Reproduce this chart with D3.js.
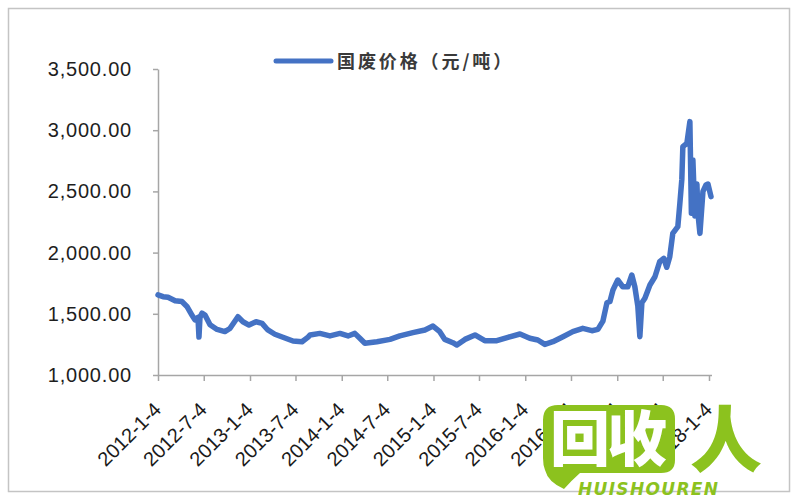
<!DOCTYPE html>
<html><head><meta charset="utf-8">
<script src="https://cdn.jsdelivr.net/npm/d3@7"></script>
<style>body{margin:0;background:#fff}</style>
</head><body><svg id="c" width="800" height="500"></svg>
<script>
const seriesName = "国废价格（元/吨）";
const dates = ["2012-01-04","2012-01-24","2012-02-13","2012-03-12","2012-04-08","2012-04-28","2012-05-18","2012-05-30","2012-06-11","2012-06-15","2012-06-19","2012-06-27","2012-07-09","2012-07-29","2012-08-26","2012-09-26","2012-10-16","2012-11-17","2012-12-07","2012-12-31","2013-01-28","2013-02-21","2013-03-16","2013-04-13","2013-05-15","2013-06-24","2013-07-30","2013-08-23","2013-08-31","2013-10-09","2013-11-18","2013-12-28","2014-01-29","2014-02-25","2014-03-17","2014-04-06","2014-05-24","2014-07-15","2014-08-23","2014-10-14","2014-12-01","2015-01-02","2015-01-29","2015-02-18","2015-03-22","2015-04-07","2015-05-09","2015-06-18","2015-07-27","2015-09-13","2015-10-27","2015-12-14","2016-01-22","2016-02-23","2016-03-22","2016-04-23","2016-06-02","2016-07-11","2016-08-20","2016-09-25","2016-10-19","2016-11-08","2016-11-24","2016-12-06","2016-12-18","2017-01-06","2017-01-26","2017-02-15","2017-03-03","2017-03-15","2017-03-27","2017-04-04","2017-04-12","2017-04-24","2017-05-14","2017-06-03","2017-06-22","2017-07-08","2017-07-20","2017-08-01","2017-08-13","2017-09-02","2017-09-10","2017-09-18","2017-09-22","2017-10-08","2017-10-20","2017-10-26","2017-11-01","2017-11-09","2017-11-17","2017-11-21","2017-11-29","2017-12-11","2017-12-23","2017-12-31","2018-01-12"];
const prices = [1655,1640,1635,1607,1600,1560,1490,1450,1470,1310,1470,1505,1490,1410,1372,1355,1380,1476,1435,1408,1435,1422,1368,1333,1308,1278,1272,1310,1327,1340,1319,1340,1319,1340,1300,1259,1272,1291,1319,1346,1368,1400,1354,1291,1264,1245,1291,1327,1280,1280,1308,1335,1300,1286,1250,1272,1313,1354,1381,1362,1373,1440,1590,1600,1694,1776,1721,1721,1817,1721,1560,1313,1590,1627,1735,1803,1926,1953,1880,1967,2157,2212,2400,2600,2865,2892,3070,2321,2756,2300,2560,2320,2157,2500,2552,2560,2457];
const xTickLabels = ["2012-1-4","2012-7-4","2013-1-4","2013-7-4","2014-1-4","2014-7-4","2015-1-4","2015-7-4","2016-1-4","2016-7-4","2017-1-4","2017-7-4","2018-1-4"];
const yTickValues = [1000,1500,2000,2500,3000,3500];
const watermarkTitle = "回收";
const watermarkMark = "人";
const watermarkSub = "HUISHOUREN";

const svg = d3.select("#c");
const parse = d3.timeParse("%Y-%m-%d");
const parseTick = d3.timeParse("%Y-%-m-%-d");
const data = dates.map((d,i)=>({date:parse(d), value:prices[i]}));
const tickDates = xTickLabels.map(parseTick);

// outer frame
svg.append("rect").attr("x",8.5).attr("y",8.5).attr("width",781).attr("height",483)
  .attr("fill","#fff").attr("stroke","#c4c4c4").attr("stroke-width",1.5);

const x = d3.scaleTime().domain([parse("2012-01-04"), parse("2018-01-14")]).range([158, 711.5]);
const y = d3.scaleLinear().domain([1000,3500]).range([375,69]);

const yAxis = svg.append("g").attr("transform","translate(158,0)")
  .call(d3.axisLeft(y).tickValues(yTickValues).tickSize(5).tickSizeOuter(0).tickPadding(21).tickFormat(d3.format(",.2f")));
yAxis.selectAll("path,line").attr("stroke","#a6a6a6").attr("stroke-width",1.5);
yAxis.selectAll("text").attr("font-family","Liberation Sans, Arial, sans-serif").attr("font-size",20)
  .attr("letter-spacing","0.8px").attr("fill","#1e1e1e");

const xAxis = svg.append("g").attr("transform","translate(0,375)")
  .call(d3.axisBottom(x).tickValues(tickDates).tickSize(6).tickSizeOuter(0).tickFormat((d,i)=>xTickLabels[i]));
xAxis.selectAll("path,line").attr("stroke","#a6a6a6").attr("stroke-width",1.5);
xAxis.selectAll("text").attr("font-family","Liberation Sans, Arial, sans-serif").attr("font-size",20)
  .attr("fill","#1a1a1a").attr("text-anchor","end")
  .attr("transform","translate(-1,31) rotate(-45)").attr("x",0).attr("y",0).attr("dy","0.35em");

// line
const line = d3.line().x(d=>x(d.date)).y(d=>y(d.value));
svg.append("path").datum(data).attr("d",line).attr("fill","none")
  .attr("stroke","#4472c4").attr("stroke-width",5.5).attr("stroke-linejoin","round").attr("stroke-linecap","round");

// legend
svg.append("line").attr("x1",276).attr("x2",331).attr("y1",61).attr("y2",61)
  .attr("stroke","#4472c4").attr("stroke-width",5).attr("stroke-linecap","round");
svg.append("text").attr("x",337).attr("y",68).text(seriesName)
  .attr("font-family","Noto Sans CJK SC, sans-serif").attr("font-weight","bold").attr("font-size",18)
  .attr("letter-spacing","2.9px").attr("fill","#3a3a3a");

// watermark
const wm = svg.append("g");
const green = "#8cc21e";
wm.append("path").attr("fill",green)
  .attr("d","M558,405 L661,405 Q675,405 675,419 L675,460 Q675,473 661,473 L580,473 Q572,480 564,489 Q548,482 545,470 Q543,465 543,458 L543,420 Q543,405 558,405 Z");
wm.append("text").attr("x",550).attr("y",461).text(watermarkTitle)
  .attr("font-family","Noto Sans CJK SC, sans-serif").attr("font-weight",900).attr("font-size",60)
  .attr("fill","#fff").attr("letter-spacing","-3px");
wm.append("text").attr("x",690).attr("y",466).text(watermarkMark)
  .attr("font-family","Noto Sans CJK SC, sans-serif").attr("font-weight",900).attr("font-size",72)
  .attr("fill",green);
wm.append("text").attr("x",578).attr("y",495).text(watermarkSub)
  .attr("font-family","DejaVu Sans, sans-serif").attr("font-weight","bold").attr("font-style","italic")
  .attr("font-size",17).attr("fill",green).attr("textLength",140);
</script></body></html>
